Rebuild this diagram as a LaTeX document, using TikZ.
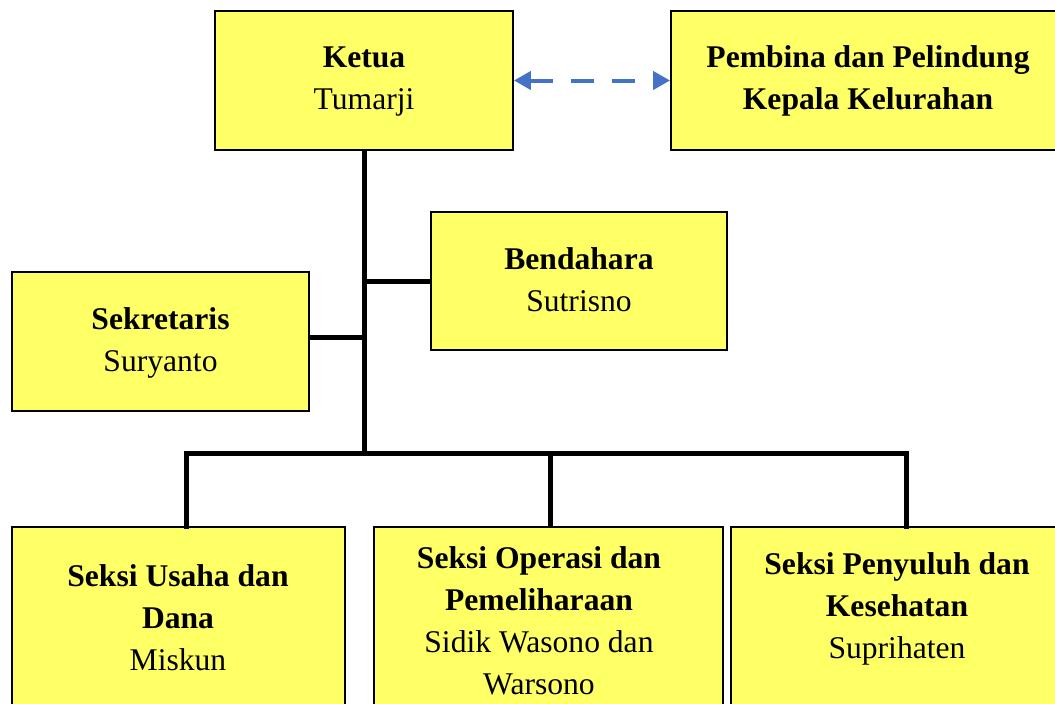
\documentclass[tikz,border=0pt]{standalone}
\usepackage{fontspec}
\setmainfont{Liberation Serif}
\usetikzlibrary{arrows.meta}
\definecolor{boxyellow}{RGB}{255,255,102}
\definecolor{arrowblue}{RGB}{68,114,196}
\tikzset{
  box/.style={draw=black, line width=1.8pt, fill=boxyellow, rectangle, inner sep=0pt},
  txt/.style={align=center, font=\fontsize{31.6}{42}\selectfont, inner sep=0pt},
  conn/.style={line width=5pt, black},
  dasharrow/.style={arrowblue, line width=4pt, dash pattern=on 23pt off 18pt,
    {Triangle[length=17pt,width=18pt]}-{Triangle[length=17pt,width=18pt]}}
}
\begin{document}
\begin{tikzpicture}[x=1pt,y=-1pt]
\useasboundingbox (0,0) rectangle (1055,704);
% boxes
\node[box, minimum width=298pt, minimum height=139pt] (ketua) at (364,80.5) {};
\node[box, minimum width=400pt, minimum height=139pt] (pembina) at (871,80.5) {};
\node[box, minimum width=296pt, minimum height=138pt] (bend) at (579,281) {};
\node[box, minimum width=297pt, minimum height=139pt] (sek) at (160.5,341.5) {};
\node[box, minimum width=333pt, minimum height=200pt] (usaha) at (178.5,627) {};
\node[box, minimum width=349pt, minimum height=200pt] (operasi) at (548.5,627) {};
\node[box, minimum width=340pt, minimum height=200pt] (penyuluh) at (901,627) {};
% texts
\node[txt] (tketua) at (364,82) {\textbf{Ketua}\\Tumarji};
\node[txt] (tpembina) at (868,81) {\textbf{Pembina dan Pelindung}\\\textbf{Kepala Kelurahan}};
\node[txt] (tbend) at (579,280) {\textbf{Bendahara}\\Sutrisno};
\node[txt] (tsek) at (160.5,343) {\textbf{Sekretaris}\\Suryanto};
\node[txt] (tusaha) at (178,618) {\textbf{Seksi Usaha dan}\\\textbf{Dana}\\Miskun};
\node[txt] (toperasi) at (539,621) {\textbf{Seksi Operasi dan}\\\textbf{Pemeliharaan}\\Sidik Wasono dan\\Warsono};
\node[txt] (tpenyuluh) at (897,609) {\textbf{Seksi Penyuluh dan}\\\textbf{Kesehatan}\\Suprihaten};
% connectors
\coordinate (j) at (364,453);
\coordinate (b1) at (186,453);
\coordinate (b2) at (550,453);
\coordinate (b3) at (906,453);
\draw[conn] (ketua.south) -- (j);
\draw[conn] (bend.west) -- (bend.west -| j);
\draw[conn] ([yshift=4pt]sek.east) -- ([yshift=4pt]sek.east -| j);
\draw[conn, line cap=rect] (b1) -- (b3);
\draw[conn] (b1) -- ([yshift=-3pt]b1 |- usaha.north);
\draw[conn] (b2) -- (b2 |- operasi.north);
\draw[conn] (b3) -- ([yshift=-3pt]b3 |- penyuluh.north);
\draw[dasharrow] (ketua.east) -- (pembina.west);
\end{tikzpicture}
\end{document}
